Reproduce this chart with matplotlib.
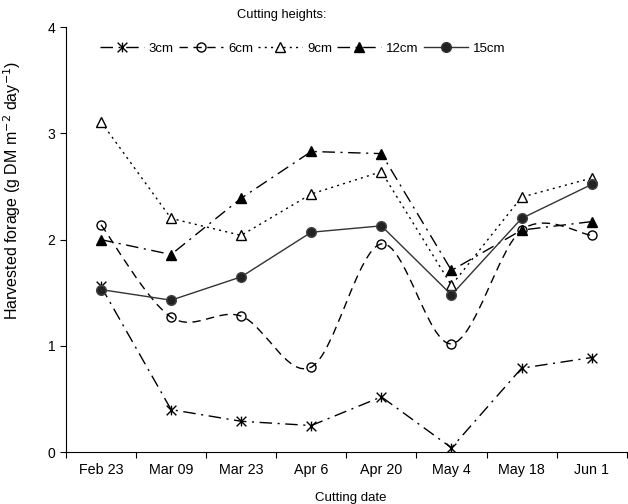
import matplotlib.pyplot as plt
from matplotlib.lines import Line2D
from matplotlib.path import Path
from matplotlib.patches import PathPatch

plt.rcParams["font.family"] = ["Liberation Sans", "DejaVu Sans"]

dates = ["Feb 23", "Mar 09", "Mar 23", "Apr 6", "Apr 20", "May 4", "May 18", "Jun 1"]
h3 = [1.56, 0.40, 0.29, 0.25, 0.52, 0.04, 0.79, 0.89]
h6 = [2.14, 1.27, 1.28, 0.80, 1.96, 1.02, 2.09, 2.04]
h9 = [3.11, 2.20, 2.04, 2.43, 2.64, 1.57, 2.40, 2.58]
h12 = [2.00, 1.86, 2.39, 2.83, 2.81, 1.71, 2.09, 2.17]
h15 = [1.53, 1.43, 1.65, 2.07, 2.13, 1.48, 2.20, 2.52]

# excel-like star: an x with a vertical bar
star = Path([(0, -1), (0, 1), (-1, -1), (1, 1), (-1, 1), (1, -1)],
            [Path.MOVETO, Path.LINETO] * 3)


def smooth_path(xs, ys, k=1 / 6):
    # bezier through the points (catmull-rom style control points)
    pts = list(zip(xs, ys))
    verts = [pts[0]]
    codes = [Path.MOVETO]
    n = len(pts)
    for i in range(n - 1):
        p0 = pts[i - 1] if i > 0 else pts[i]
        p1, p2 = pts[i], pts[i + 1]
        p3 = pts[i + 2] if i + 2 < n else pts[i + 1]
        c1 = (p1[0] + (p2[0] - p0[0]) * k, p1[1] + (p2[1] - p0[1]) * k)
        c2 = (p2[0] - (p3[0] - p1[0]) * k, p2[1] - (p3[1] - p1[1]) * k)
        verts += [c1, c2, p2]
        codes += [Path.CURVE4] * 3
    return Path(verts, codes)


fig = plt.figure(figsize=(6.28, 5.04), dpi=100)
ax = fig.add_axes([0.105, 0.103, 0.893, 0.843])
x = list(range(len(dates)))

dashdot = (0, (9, 4, 1.5, 4))
ax.plot(x, h3, color="black", lw=1, ls=dashdot, marker=star, ms=7,
        mew=1, zorder=3)
ax.add_patch(PathPatch(smooth_path(x, h6), fill=False, ec="black", lw=1,
                       ls=(0, (6, 4)), zorder=3))
ax.plot(x, h6, ls="none", marker="o", ms=6.5, mfc="none", mec="black",
        mew=1, zorder=4)
ax.plot(x, h9, color="black", lw=1, ls=(0, (1.5, 3)), marker="^", ms=6.5,
        mfc="white", mec="black", mew=1, zorder=3)
ax.plot(x, h12, color="black", lw=1, ls=dashdot, marker="^", ms=7,
        mfc="black", mec="black", zorder=3)
ax.plot(x, h15, color="#333333", lw=1, ls="-", marker="o", ms=7,
        mfc="#222222", mec="#444444", zorder=3)

ax.set_xlim(-0.5, len(dates) - 0.5)
ax.set_ylim(0, 4)
ax.set_yticks([0, 1, 2, 3, 4])
ax.set_xticks([i - 0.5 for i in range(len(dates) + 1)])
ax.set_xticklabels([])
ax.set_xticks(x, minor=True)
ax.set_xticklabels(dates, minor=True, fontsize=10.3)
ax.tick_params(axis="x", which="minor", length=0, pad=8)
ax.tick_params(axis="x", which="major", direction="out", length=4)
ax.tick_params(axis="y", direction="out", length=4, labelsize=10)
for s in ("top", "right"):
    ax.spines[s].set_visible(False)
ax.set_xlabel("Cutting date", fontsize=9.5)
ax.xaxis.set_label_coords(0.507, -0.095)
ax.set_ylabel("Harvested forage (g DM m$^{-2}$ day$^{-1}$)", fontsize=11.5)
ax.yaxis.set_label_coords(-0.076, 0.617)

handles = [
    Line2D([], [], color="black", lw=1, ls=dashdot, marker=star, ms=7),
    Line2D([], [], color="black", lw=1, ls=(0, (6, 4)), marker="o", ms=6.5,
           mfc="none"),
    Line2D([], [], color="black", lw=1, ls=(0, (1.5, 3)), marker="^",
           ms=6.5, mfc="white"),
    Line2D([], [], color="black", lw=1, ls=dashdot, marker="^", ms=7),
    Line2D([], [], color="#333333", lw=1, marker="o", ms=7, mfc="#222222"),
]
labels = ["3cm", "6cm", "9cm", "12cm", "15cm"]
fig.legend(handles, labels, loc="center", bbox_to_anchor=(0.482, 0.903),
           ncol=5, frameon=False, fontsize=9.5, handlelength=3.3,
           columnspacing=0.4, handletextpad=0.4)
fig.text(0.449, 0.97, "Cutting heights:", ha="center", va="center",
         fontsize=9.3)

fig.savefig("out.png", dpi=100)
